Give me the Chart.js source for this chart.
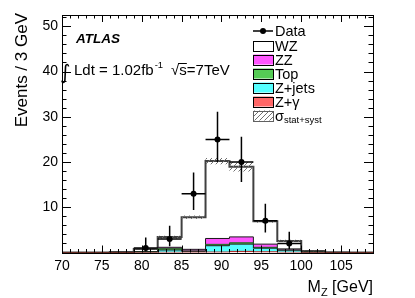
<!DOCTYPE html>
<html><head><meta charset="utf-8">
<script src="https://cdn.jsdelivr.net/npm/chart.js@4/dist/chart.umd.min.js"></script>
<style>html,body{margin:0;padding:0;background:#fff;overflow:hidden}</style>
</head><body><canvas id="c" width="415" height="298"></canvas>
<script>
// ---- data (bins of 3 GeV) ----
const binEdges = [70,73,76,79,82,85,88,91,94,97,100,103,106,109];
const xTickLabels = [70,75,80,85,90,95,100,105];
const yTickLabels = [10,20,30,40,50];
const dataCounts   = [0,0,0,1,3,13,25,20,7,2,0,0,0];
const dataErrUp    = [0,0,0,2.3,2.9,4.7,6.1,5.6,3.8,2.6,0,0,0];
const dataErrDown  = [0,0,0,0.8,1.6,3.6,5.0,4.4,2.6,1.3,0,0,0];
const zgammaBkg = [0,0,0,0,0.05,0.05,0.1,0.25,0.15,0.05,0,0,0];
const zjetsBkg  = [0,0,0,0.1,0.5,0.2,1.4,1.6,0.8,0.45,0.05,0,0];
const topBkg    = [0,0,0,0,0.3,0.1,0.3,0.3,0.2,0.05,0,0,0];
const zzBkg     = [0,0,0,0.1,0.3,0.35,1.3,1.3,0.7,0.25,0.05,0,0];
const wzSignal  = [0,0,0.1,0.6,2.25,7.1,17.1,15.5,5.05,1.75,0.25,0.05,0];
const sigmaTot  = [0,0,0.02,0.1,0.3,0.4,0.7,1.05,0.3,0.25,0.05,0,0];
const seriesNames = ['Data','WZ','ZZ','Top','Z+jets','Z+\u03b3','\u03c3'];
const seriesColors = ['#000000','#ffffff','#ff55ff','#55cc55','#55ffff','#ff6666','hatch'];

const FONT = "'Liberation Sans', Arial, sans-serif";

// hatch pattern
const pc = document.createElement('canvas'); pc.width = 5; pc.height = 5;
const pctx = pc.getContext('2d');
pctx.strokeStyle = '#707070'; pctx.lineWidth = 1;
pctx.beginPath(); pctx.moveTo(-1,6); pctx.lineTo(6,-1); pctx.stroke();
pctx.beginPath(); pctx.moveTo(-1,1); pctx.lineTo(1,-1); pctx.stroke();
pctx.beginPath(); pctx.moveTo(4,6); pctx.lineTo(6,4); pctx.stroke();
const hatch = document.getElementById('c').getContext('2d').createPattern(pc,'repeat');

function stepPts(vals){
  return binEdges.map((e,i)=>({x:e, y: i < vals.length ? vals[i] : vals[vals.length-1]}));
}
const totals = wzSignal.map((v,i)=>v+zzBkg[i]+topBkg[i]+zjetsBkg[i]+zgammaBkg[i]);
const lowBand = totals.map((t,i)=>Math.max(0,t-sigmaTot[i]));
const bandW = totals.map((t,i)=>t+sigmaTot[i]-lowBand[i]);
const centers = binEdges.slice(0,-1).map((e,i)=>(e+binEdges[i+1])/2);
const dataPts = [];
dataCounts.forEach((n,i)=>{ if(n>0) dataPts.push({x:centers[i], y:n}); });

function histo(label, vals, color, fill, lw, bc){
  return {label, data: stepPts(vals), stepped: true, stack:'mc', order:2,
    backgroundColor: color, borderColor: bc, borderWidth: lw, fill, pointRadius:0};
}

const atlasPlugin = {
  id:'atlas',
  afterDatasetsDraw(chart){
    const ctx = chart.ctx, xs = chart.scales.x, ys = chart.scales.y;
    ctx.save(); ctx.strokeStyle = '#000'; ctx.lineWidth = 1.5;
    dataCounts.forEach((n,i)=>{
      if(n<=0) return;
      const px = xs.getPixelForValue(centers[i]);
      const py = ys.getPixelForValue(n);
      ctx.beginPath();
      ctx.moveTo(px, ys.getPixelForValue(n+dataErrUp[i]));
      ctx.lineTo(px, ys.getPixelForValue(n-dataErrDown[i]));
      ctx.moveTo(xs.getPixelForValue(binEdges[i]), py);
      ctx.lineTo(xs.getPixelForValue(binEdges[i+1]), py);
      ctx.stroke();
    });
    ctx.restore();
  },
  afterDraw(chart){
    const ctx = chart.ctx, xs = chart.scales.x, ys = chart.scales.y, a = chart.chartArea;
    ctx.save();
    // frame
    ctx.strokeStyle = '#000'; ctx.lineWidth = 1;
    ctx.strokeRect(Math.round(a.left)+0.5, Math.round(a.top)+0.5, Math.round(a.right-a.left), Math.round(a.bottom-a.top));
    // ticks
    ctx.beginPath();
    for(let v=70; v<=109; v++){
      const px = Math.round(xs.getPixelForValue(v))+0.5;
      const L = (v%5===0) ? 7 : 3.5;
      ctx.moveTo(px, a.bottom); ctx.lineTo(px, a.bottom-L);
      ctx.moveTo(px, a.top); ctx.lineTo(px, a.top+L);
    }
    for(let v=0; v<=52; v+=2){
      const py = Math.round(ys.getPixelForValue(v))+0.5;
      const L = (v%10===0) ? 9 : 4.5;
      ctx.moveTo(a.left, py); ctx.lineTo(a.left+L, py);
      ctx.moveTo(a.right, py); ctx.lineTo(a.right-L, py);
    }
    ctx.stroke();
    ctx.fillStyle = '#000';
    // y title
    ctx.save();
    ctx.translate(27, 13); ctx.rotate(-Math.PI/2);
    ctx.font = '17px '+FONT; ctx.textAlign='right'; ctx.textBaseline='alphabetic';
    ctx.fillText('Events / 3 GeV', 0, 0);
    ctx.restore();
    // x title
    ctx.textBaseline='alphabetic'; ctx.textAlign='left';
    ctx.font = '16px '+FONT;
    const t1 = 'M', t3 = ' [GeV]';
    const w1 = ctx.measureText(t1).width, w3 = ctx.measureText(t3).width;
    ctx.font = '11px '+FONT; const w2 = ctx.measureText('Z').width;
    let x0 = a.right - (w1+w2+w3);
    ctx.font = '16px '+FONT; ctx.fillText(t1, x0, 291.5);
    ctx.font = '11px '+FONT; ctx.fillText('Z', x0+w1, 296);
    ctx.font = '16px '+FONT; ctx.fillText(t3, x0+w1+w2, 291.5);
    // ATLAS
    ctx.font = 'italic bold 13.5px '+FONT;
    ctx.fillText('ATLAS', 76, 43);
    // lumi
    ctx.font = '20px DejaVu Sans';
    ctx.fillText('\u222b', 60, 79);
    ctx.font = '15px '+FONT;
    let lx = 74;
    ctx.fillText('Ldt = 1.02fb', lx, 75); lx += ctx.measureText('Ldt = 1.02fb').width;
    ctx.font = '9.5px '+FONT; ctx.fillText('-1', lx+1, 68); lx += ctx.measureText('-1').width + 9;
    ctx.font = '15px '+FONT;
    ctx.fillText('\u221a', lx, 75); lx += ctx.measureText('\u221a').width;
    const ws = ctx.measureText('s').width;
    ctx.fillText('s=7TeV', lx, 75);
    ctx.lineWidth = 1; ctx.beginPath(); ctx.moveTo(lx-1, 63.5); ctx.lineTo(lx+ws, 63.5); ctx.stroke();
    // legend
    const rowY = [31,45.5,59.5,73.5,87.5,101.5,115.5];
    const bx = 253, bw = 20, bh = 10, tx = 275;
    ctx.textBaseline = 'middle';
    seriesNames.forEach((name,i)=>{
      const y = rowY[i];
      const col = seriesColors[i];
      if(i===0){
        ctx.lineWidth = 1.5; ctx.beginPath(); ctx.moveTo(bx, y); ctx.lineTo(bx+bw, y); ctx.stroke();
        ctx.beginPath(); ctx.arc(bx+bw/2, y, 3, 0, 2*Math.PI); ctx.fill();
      } else {
        ctx.fillStyle = col==='hatch' ? hatch : col;
        ctx.fillRect(bx, y-bh/2, bw, bh);
        ctx.fillStyle = '#000';
        ctx.lineWidth = 1; ctx.strokeStyle = col==='hatch' ? '#606060' : '#000';
        ctx.strokeRect(bx+0.5, Math.round(y-bh/2)+0.5, bw, bh);
        ctx.strokeStyle = '#000';
      }
      ctx.font = '14.5px '+FONT;
      ctx.fillText(name, tx, y+1);
      if(col==='hatch'){
        const wn = ctx.measureText(name).width;
        ctx.font = '9.5px '+FONT;
        ctx.fillText('stat+syst', tx+wn, y+5);
      }
    });
    ctx.restore();
  }
};

new Chart(document.getElementById('c'), {
  type:'line',
  data:{
    datasets:[
      {label:'Data', data:dataPts, showLine:false, stack:'data', order:0,
       pointRadius:3, pointBackgroundColor:'#000', pointBorderColor:'#000', pointBorderWidth:0},
      {label:'bandLow', data:stepPts(lowBand), stepped:true, stack:'unc', order:1,
       borderWidth:0, borderColor:'rgba(0,0,0,0)', fill:false, pointRadius:0},
      {label:'band', data:stepPts(bandW), stepped:true, stack:'unc', order:1,
       borderWidth:0, borderColor:'rgba(0,0,0,0)', backgroundColor:hatch, fill:'-1', pointRadius:0},
      histo('Z+gamma', zgammaBkg, '#ff6666', 'origin', 1, '#aa2020'),
      histo('Z+jets', zjetsBkg, '#55ffff', '-1', 1, '#1a1a1a'),
      histo('Top', topBkg, '#55cc55', '-1', 1, '#1f5f1f'),
      histo('ZZ', zzBkg, '#ff55ff', '-1', 1, '#1a1a1a'),
      histo('WZ', wzSignal, '#ffffff', '-1', 2, '#404040')
    ]
  },
  options:{
    responsive:false, animation:false, devicePixelRatio:1,
    layout:{padding:{left:0, right:42, top:15, bottom:0}},
    plugins:{legend:{display:false}, tooltip:{enabled:false}, title:{display:false}},
    elements:{line:{tension:0}},
    scales:{
      x:{type:'linear', min:70, max:109,
        grid:{display:false, drawTicks:false}, border:{display:false},
        afterBuildTicks:s=>{ s.ticks = xTickLabels.map(v=>({value:v})); },
        afterFit:s=>{ s.height = 45.5; },
        ticks:{padding:5, autoSkip:false, maxRotation:0, color:'#000', font:{family:FONT, size:14}}},
      y:{type:'linear', stacked:true, min:0, max:52.5,
        grid:{display:false, drawTicks:false}, border:{display:false},
        afterBuildTicks:s=>{ s.ticks = yTickLabels.map(v=>({value:v})); },
        afterFit:s=>{ s.width = 62; },
        ticks:{padding:4, color:'#000', font:{family:FONT, size:14}}}
    }
  },
  plugins:[atlasPlugin]
});
</script></body></html>
